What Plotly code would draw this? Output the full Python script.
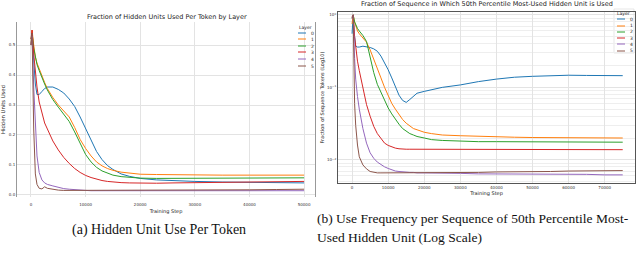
import plotly.graph_objects as go

# ---------------- data ----------------
layers = ["0", "1", "2", "3", "4", "5"]
colors = ["#1f77b4", "#ff7f0e", "#2ca02c", "#d62728", "#9467bd", "#8c564b"]

# (a) fraction of hidden units used per token
token_steps = [0, 200, 500, 800, 1100, 1500, 2000, 2500, 3000, 4000, 5000, 6000, 7000, 8000,
               9000, 10000, 11000, 12000, 13000, 14000, 15000, 16500, 18000, 20000, 23000,
               26000, 30000, 35000, 40000, 45000, 50000]
token_l0 = [0.50, 0.54, 0.45, 0.37, 0.335, 0.335, 0.345, 0.355, 0.36, 0.36, 0.352, 0.34, 0.32, 0.295,
            0.26, 0.22, 0.18, 0.145, 0.118, 0.098, 0.085, 0.07, 0.062, 0.055, 0.05,
            0.047, 0.045, 0.043, 0.042, 0.041, 0.04]
token_l1 = [0.50, 0.55, 0.50, 0.46, 0.44, 0.42, 0.395, 0.375, 0.355, 0.325, 0.30, 0.28, 0.26, 0.225,
            0.185, 0.155, 0.13, 0.11, 0.097, 0.088, 0.082, 0.076, 0.072, 0.069, 0.068,
            0.067, 0.066, 0.066, 0.066, 0.066, 0.066]
token_l2 = [0.52, 0.54, 0.49, 0.455, 0.435, 0.415, 0.39, 0.37, 0.35, 0.318, 0.293, 0.27, 0.245, 0.21,
            0.17, 0.135, 0.11, 0.092, 0.08, 0.072, 0.066, 0.061, 0.058, 0.056, 0.055,
            0.055, 0.055, 0.055, 0.056, 0.056, 0.057]
token_l3 = [0.52, 0.55, 0.47, 0.40, 0.36, 0.31, 0.27, 0.24, 0.22, 0.18, 0.15, 0.125, 0.105, 0.088,
            0.075, 0.065, 0.058, 0.052, 0.048, 0.045, 0.043, 0.041, 0.04, 0.039, 0.039,
            0.04, 0.041, 0.042, 0.043, 0.044, 0.045]
token_l4 = [0.50, 0.53, 0.36, 0.22, 0.13, 0.075, 0.05, 0.04, 0.035, 0.03, 0.025, 0.021, 0.019, 0.017,
            0.016, 0.015, 0.014, 0.014, 0.014, 0.014, 0.013, 0.013, 0.013, 0.013, 0.013,
            0.013, 0.013, 0.013, 0.013, 0.013, 0.014]
token_l5 = [0.50, 0.54, 0.22, 0.07, 0.035, 0.022, 0.02, 0.027, 0.022, 0.018, 0.016, 0.015, 0.015, 0.015,
            0.015, 0.015, 0.015, 0.015, 0.015, 0.015, 0.015, 0.015, 0.015, 0.015, 0.015,
            0.016, 0.016, 0.017, 0.017, 0.018, 0.019]
token_series = [token_l0, token_l1, token_l2, token_l3, token_l4, token_l5]
token_xticks = [0, 10000, 20000, 30000, 40000, 50000]
token_yticks = [0.0, 0.1, 0.2, 0.3, 0.4, 0.5]

# (b) fraction of sequence in which 50th percentile unit is used (log)
seq_steps = [0, 300, 700, 1000, 1500, 2000, 3000, 4000, 5000, 6000, 7000, 8000, 9000, 10000,
             11000, 12000, 13000, 14000, 15000, 16000, 17000, 18000, 20000, 22000, 25000,
             30000, 35000, 40000, 45000, 50000, 55000, 60000, 65000, 70000, 75000]
seq_l0 = [0.55, 1.0, 0.5, 0.37, 0.36, 0.36, 0.37, 0.365, 0.355, 0.34, 0.315, 0.27, 0.22, 0.175,
          0.135, 0.1, 0.078, 0.066, 0.062, 0.068, 0.076, 0.083, 0.088, 0.093, 0.1,
          0.108, 0.12, 0.13, 0.138, 0.142, 0.145, 0.147, 0.146, 0.145, 0.145]
seq_l1 = [0.75, 1.0, 0.8, 0.7, 0.6, 0.55, 0.48, 0.42, 0.33, 0.25, 0.18, 0.135, 0.1, 0.077,
          0.06, 0.05, 0.042, 0.036, 0.032, 0.029, 0.027, 0.026, 0.024, 0.023, 0.022,
          0.0215, 0.021, 0.0208, 0.0205, 0.0203, 0.0202, 0.0201, 0.02, 0.02, 0.02]
seq_l2 = [0.9, 1.0, 0.8, 0.72, 0.65, 0.6, 0.52, 0.43, 0.26, 0.16, 0.11, 0.085, 0.065, 0.052,
          0.043, 0.036, 0.031, 0.027, 0.025, 0.023, 0.022, 0.021, 0.02, 0.019, 0.0185,
          0.018, 0.0178, 0.0178, 0.0177, 0.0177, 0.0176, 0.0176, 0.0175, 0.0175, 0.0175]
seq_l3 = [0.95, 1.0, 0.5, 0.35, 0.23, 0.17, 0.095, 0.058, 0.04, 0.029, 0.023, 0.02, 0.017, 0.0158,
          0.015, 0.0145, 0.0142, 0.014, 0.014, 0.014, 0.014, 0.014, 0.014, 0.014, 0.014,
          0.0139, 0.0139, 0.0139, 0.0138, 0.0138, 0.0138, 0.0138, 0.0138, 0.0138, 0.0138]
seq_l4 = [0.9, 1.0, 0.25, 0.13, 0.075, 0.05, 0.027, 0.017, 0.0125, 0.0105, 0.0093, 0.0085, 0.008, 0.0076,
          0.0073, 0.007, 0.0069, 0.0068, 0.0067, 0.0067, 0.0067, 0.0066, 0.0066, 0.0066, 0.0065,
          0.0065, 0.0064, 0.0064, 0.0064, 0.0063, 0.0063, 0.0063, 0.0063, 0.0062, 0.0062]
seq_l5 = [0.9, 1.0, 0.06, 0.03, 0.016, 0.011, 0.0085, 0.0075, 0.0069, 0.0067, 0.0066, 0.0066, 0.0066, 0.0066,
          0.0066, 0.0066, 0.0066, 0.0066, 0.0066, 0.0066, 0.0066, 0.0066, 0.0066, 0.0066, 0.0066,
          0.0067, 0.0067, 0.0068, 0.0068, 0.0069, 0.0069, 0.007, 0.007, 0.0071, 0.0071]
seq_series = [seq_l0, seq_l1, seq_l2, seq_l3, seq_l4, seq_l5]
seq_xticks = [0, 10000, 20000, 30000, 40000, 50000, 60000, 70000]
seq_yticks = [0.01, 0.1, 1.0]
seq_yticktext = ["10<sup>−2</sup>", "10<sup>−1</sup>", "10<sup>0</sup>"]

title_a = "Fraction of Hidden Units Used Per Token by Layer"
title_b = "Fraction of Sequence in Which 50th Percentile Most-Used Hidden Unit is Used"
caption_a = "(a) Hidden Unit Use Per Token"
caption_b = ["(b) Use Frequency per Sequence of 50th Percentile Most-", "Used Hidden Unit (Log Scale)"]

# ---------------- layout helpers ----------------
W, H = 640, 253
def px(x):
    return x / W
def py(y):
    return 1 - y / H

FONT = "DejaVu Sans"
GRID = "#e3e3e3"

fig = go.Figure()
for name, col, vals in zip(layers, colors, token_series):
    fig.add_trace(go.Scatter(x=token_steps, y=vals, mode="lines", name=name,
                             line=dict(color=col, width=1), xaxis="x", yaxis="y",
                             showlegend=False))
for name, col, vals in zip(layers, colors, seq_series):
    fig.add_trace(go.Scatter(x=seq_steps, y=vals, mode="lines", name=name,
                             line=dict(color=col, width=1), xaxis="x2", yaxis="y2",
                             showlegend=False))

tickfont = dict(family=FONT, size=4, color="#333")
fig.update_layout(
    template="none",
    width=W, height=H, margin=dict(l=0, r=0, t=0, b=0),
    paper_bgcolor="white", plot_bgcolor="white",
    xaxis=dict(domain=[px(17), px(315)], range=[-2560, 52000], tickvals=token_xticks,
               tickformat="d",
               showgrid=True, gridcolor=GRID, gridwidth=1, zeroline=False, showline=False,
               ticks="", tickfont=tickfont, ticklabelstandoff=4,
               title=dict(text="Training Step", font=dict(family=FONT, size=5, color="#222"), standoff=3),
               anchor="y", automargin=False),
    yaxis=dict(domain=[py(197), py(22)], range=[-0.007, 0.577], tickvals=token_yticks,
               tickformat=".1f", showgrid=True, gridcolor=GRID, gridwidth=1, zeroline=False,
               showline=True, linecolor="#999", linewidth=1, mirror=True, ticks="",
               tickfont=tickfont, title=dict(text="Hidden Units Used", font=dict(family=FONT, size=5.3, color="#222"), standoff=2),
               anchor="x", automargin=False),
    xaxis2=dict(domain=[px(338), px(635)], range=[-3900, 78400], tickvals=seq_xticks,
                tickformat="d",
                showgrid=True, gridcolor=GRID, gridwidth=1, zeroline=False,
                showline=True, linecolor="#555", linewidth=1, mirror=True, ticks="",
                tickfont=tickfont, title=dict(text="Training Step", font=dict(family=FONT, size=5, color="#222"), standoff=1),
                anchor="y2", automargin=False),
    yaxis2=dict(domain=[py(183), py(12)], type="log", range=[-2.32, 0.04], tickvals=seq_yticks,
                ticktext=seq_yticktext, showgrid=True, gridcolor=GRID, gridwidth=1, zeroline=False,
                showline=True, linecolor="#555", linewidth=1, mirror=True, ticks="",
                minor=dict(showgrid=True, gridcolor="#eeeeee", dtick="D1", ticks=""),
                tickfont=tickfont,
                title=dict(text="Fraction of Sequence Tokens (Log10)", font=dict(family=FONT, size=5, color="#222"), standoff=2),
                anchor="x2", automargin=False),
)

ann = []
# titles
ann.append(dict(text=title_a, x=px(167), y=py(17), xref="paper", yref="paper", showarrow=False,
                font=dict(family=FONT, size=6.5, color="#222"), xanchor="center", yanchor="middle"))
ann.append(dict(text=title_b, x=px(487), y=py(4), xref="paper", yref="paper", showarrow=False,
                font=dict(family=FONT, size=6.5, color="#222"), xanchor="center", yanchor="middle"))
# captions
serif = "Liberation Serif"
ann.append(dict(text=caption_a, x=px(159), y=py(230), xref="paper", yref="paper", showarrow=False,
                font=dict(family=serif, size=14, color="#111"), xanchor="center", yanchor="middle"))
for i, line in enumerate(caption_b):
    ann.append(dict(text=line, x=px(315), y=py(218 + 19 * i), xref="paper", yref="paper", showarrow=False,
                    font=dict(family=serif, size=13.5, color="#111"), xanchor="left", yanchor="middle"))

shapes = []
# manual legends
def legend(x_line0, x_line1, x_text, title_xy, ys):
    ann.append(dict(text="Layer", x=px(title_xy[0]), y=py(title_xy[1]), xref="paper", yref="paper",
                    showarrow=False, font=dict(family=FONT, size=4.5, color="#222"),
                    xanchor="center", yanchor="middle"))
    for name, col, yy in zip(layers, colors, ys):
        shapes.append(dict(type="line", xref="paper", yref="paper", x0=px(x_line0), x1=px(x_line1),
                           y0=py(yy), y1=py(yy), line=dict(color=col, width=1)))
        ann.append(dict(text=name, x=px(x_text), y=py(yy), xref="paper", yref="paper", showarrow=False,
                        font=dict(family=FONT, size=4.5, color="#222"), xanchor="left", yanchor="middle"))

shapes.append(dict(type="rect", xref="paper", yref="paper", x0=px(614), x1=px(634), y0=py(53), y1=py(9),
                   line=dict(color="#dddddd", width=0.7), fillcolor="white", layer="below"))
legend(298, 306, 309, (305, 27), [33, 39, 46, 52, 59, 66])
legend(617, 625, 628, (623, 13), [19, 26, 32, 38, 44, 51])

fig.update_layout(annotations=ann, shapes=shapes)
fig.write_html("out.html", config={"displayModeBar": False},
               post_script="document.body.style.margin='0px';document.body.style.overflow='hidden';")
